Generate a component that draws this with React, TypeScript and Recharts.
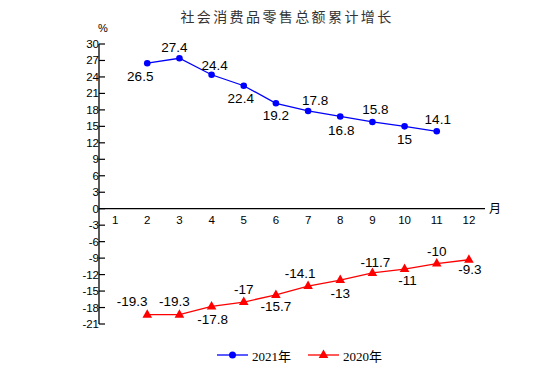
import { LineChart, Line, XAxis, YAxis, ReferenceLine, LabelList } from "recharts";

// 社会消费品零售总额累计增长 (%), by month
const months = [1, 2, 3, 4, 5, 6, 7, 8, 9, 10, 11, 12];
const growth2021 = [null, 26.5, 27.4, 24.4, 22.4, 19.2, 17.8, 16.8, 15.8, 15, 14.1, null];
const growth2020 = [null, -19.3, -19.3, -17.8, -17, -15.7, -14.1, -13, -11.7, -11, -10, -9.3];
const yMinor = Array.from({ length: 52 }, (_, i) => i - 21); // every 1
const yMajor = yMinor.filter((v) => v % 3 === 0); // labelled every 3

// label offsets (dx, dy) from the point, per month
const offsets2021 = [
  [0, 0], [-7, 13], [-5, -11], [3, -9], [-3, 13], [0, 12],
  [7, -10], [1, 14], [3, -12], [0, 13], [1, -12], [0, 0],
];
const offsets2020 = [
  [0, 0], [-15, -13], [-5, -13], [1, 13], [0, -13], [0, 12],
  [-8, -13], [0, 13], [3, -10], [3, 11], [0, -12], [1, 10],
];

const data = months.map((m, i) => ({
  month: m,
  y2021: growth2021[i],
  y2020: growth2020[i],
}));

const W = 554;
const H = 387;
const MARGIN = { top: 44, right: 69, bottom: 62, left: 0 };
const X_AXIS_H = 1;
const PLOT_H = H - MARGIN.top - MARGIN.bottom - X_AXIS_H;
const ZERO_Y = MARGIN.top + (PLOT_H * 30) / 51;
const NUM_FONT = "'Liberation Sans', Arial, sans-serif";
const SERIF = "'Liberation Serif', 'Noto Sans CJK SC', serif";
const boundaries = months.slice(0, 11).map((m) => m + 0.5);

function XTick(props: any) {
  const x = Number(props.x);
  const v = Number(props.payload.value);
  return (
    <text x={x} y={ZERO_Y + 11} textAnchor="middle" dominantBaseline="central"
      fontSize={11.5} fontFamily={NUM_FONT} fill="#000">
      {v}
    </text>
  );
}

function BoundaryTick(props: any) {
  const x = Number(props.x);
  return <rect x={x - 0.6} y={ZERO_Y - 6} width={1.2} height={6} fill="#000" />;
}

function YTick(props: any) {
  const x = Number(props.x);
  const y = Number(props.y);
  const v = Number(props.payload.value);
  return (
    <g>
      <text x={x - 6} y={y} textAnchor="end" dominantBaseline="central"
        fontSize={11.5} fontFamily={NUM_FONT} fill="#000">
        {v}
      </text>
    </g>
  );
}

function makeLabel(offsets: number[][]) {
  return (props: any) => {
    const { x, y, value, index } = props;
    if (value == null) return null;
    const [dx, dy] = offsets[index];
    return (
      <text x={x + dx} y={y + dy} textAnchor="middle" dominantBaseline="central"
        fontSize={13.5} fontFamily={NUM_FONT} fill="#000">
        {value}
      </text>
    );
  };
}

function Triangle({ cx, cy, value }: any) {
  if (value == null || cx == null) return null;
  return <path d={`M${cx},${cy - 5.5} L${cx + 4.8},${cy + 3} L${cx - 4.8},${cy + 3} Z`} fill="#ff0000" />;
}

export default function App() {
  return (
    <div style={{ position: "absolute", left: 0, top: 0, width: W, height: H, background: "#fff" }}>
      <div style={{
        position: "absolute", top: 6, left: 0, width: W, textAlign: "center",
        fontFamily: "'Noto Sans CJK SC', sans-serif", fontSize: 14, letterSpacing: 2.4,
        color: "#333", paddingLeft: 10,
      }}>
        社会消费品零售总额累计增长
      </div>
      <div style={{ position: "absolute", top: 22, left: 98, fontFamily: NUM_FONT, fontSize: 11, color: "#000" }}>%</div>
      <LineChart width={W} height={H} data={data} margin={MARGIN}>
        <XAxis xAxisId="m" dataKey="month" type="number" domain={[0.5, 12.5]} ticks={months} interval={0}
          height={X_AXIS_H} axisLine={false} tickLine={false} tick={<XTick />} />
        <XAxis xAxisId="b" dataKey="month" type="number" domain={[0.5, 12.5]} ticks={boundaries} interval={0}
          height={0} axisLine={false} tickLine={false} tick={<BoundaryTick />} />
        {/* minor ticks: no labels, inward (negative tick size) */}
        <YAxis yAxisId="minor" type="number" domain={[-21, 30]} ticks={yMinor} interval={0} width={0}
          tickSize={-4} tick={false} axisLine={false}
          tickLine={{ stroke: "#000", strokeWidth: 1.2 }} />
        <YAxis yAxisId="v" type="number" domain={[-21, 30]} ticks={yMajor} interval={0} width={99}
          tickSize={-6} tickMargin={0}
          tickLine={{ stroke: "#000", strokeWidth: 1.2 }}
          axisLine={{ stroke: "#000", strokeWidth: 1.3 }} tick={<YTick />} />
        <ReferenceLine xAxisId="m" yAxisId="v" y={0} stroke="#000" strokeWidth={1.3}
          label={{ value: "月", position: "right", offset: 4, fontSize: 12, fill: "#000",
            fontFamily: "'Noto Sans CJK SC', sans-serif" }} />
        <Line xAxisId="m" yAxisId="v" dataKey="y2021" stroke="#0000ff" strokeWidth={1.3} isAnimationActive={false}
          dot={{ r: 3.3, fill: "#0000ff", stroke: "#0000ff", strokeWidth: 0 }}>
          <LabelList dataKey="y2021" content={makeLabel(offsets2021)} />
        </Line>
        <Line xAxisId="m" yAxisId="v" dataKey="y2020" stroke="#ff0000" strokeWidth={1.3} isAnimationActive={false}
          dot={<Triangle />}>
          <LabelList dataKey="y2020" content={makeLabel(offsets2020)} />
        </Line>
      </LineChart>
      <div style={{ position: "absolute", top: 345, left: 216, display: "flex", alignItems: "center",
        fontFamily: SERIF, fontSize: 13, color: "#000" }}>
        <svg width={33} height={20}>
          <line x1={1} x2={32} y1={10} y2={10} stroke="#0000ff" strokeWidth={1.3} />
          <circle cx={16.5} cy={10} r={3.5} fill="#0000ff" />
        </svg>
        <span style={{ marginLeft: 3, marginRight: 16 }}>2021年</span>
        <svg width={33} height={20}>
          <line x1={1} x2={32} y1={10} y2={10} stroke="#ff0000" strokeWidth={1.3} />
          <path d="M16.5,4.5 L21.3,13 L11.7,13 Z" fill="#ff0000" />
        </svg>
        <span style={{ marginLeft: 3 }}>2020年</span>
      </div>
    </div>
  );
}
